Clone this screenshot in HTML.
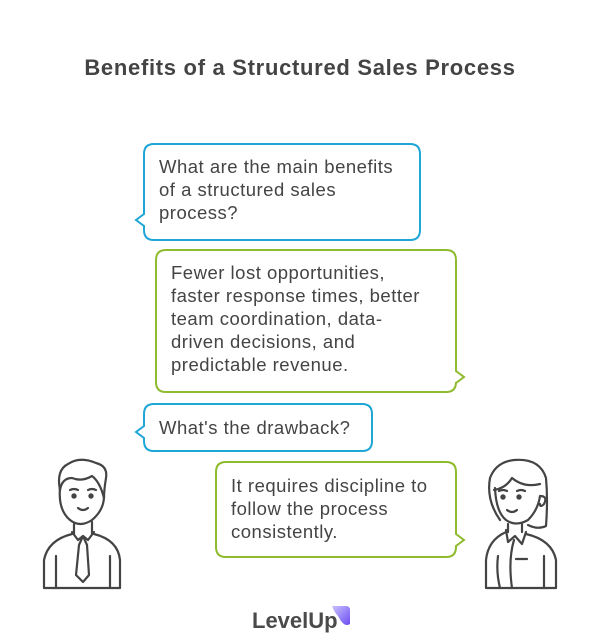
<!DOCTYPE html>
<html><head><meta charset="utf-8"><style>
html,body{margin:0;padding:0;background:#fff;}
svg{display:block;}
text{font-family:"Liberation Sans",sans-serif;}
</style></head><body>
<svg width="600" height="642" viewBox="0 0 600 642" xmlns="http://www.w3.org/2000/svg">
<defs><linearGradient id="g" x1="0" y1="0" x2="1" y2="1"><stop offset="0" stop-color="#c9c4ff"/><stop offset="1" stop-color="#6d4cf0"/></linearGradient></defs>
<text x="300" y="75" text-anchor="middle" font-size="22" font-weight="bold" fill="#444" letter-spacing="0.7">Benefits of a Structured Sales Process</text>
<g fill="#fff" stroke-width="2">
<path stroke="#1ea7d6" d="M154,144 H410 Q420,144 420,154 V230 Q420,240 410,240 H154 Q144,240 144,230 V226 L136,220 L144,214 V154 Q144,144 154,144Z"/>
<path stroke="#8fbb2e" d="M166,250 H446 Q456,250 456,260 V371 L464,377 L456,383 V382 Q456,392 446,392 H166 Q156,392 156,382 V260 Q156,250 166,250Z"/>
<path stroke="#1ea7d6" d="M154,404 H362 Q372,404 372,414 V441 Q372,451 362,451 H154 Q144,451 144,441 V438 L136,432 L144,426 V414 Q144,404 154,404Z"/>
<path stroke="#8fbb2e" d="M226,462 H446 Q456,462 456,472 V534 L464,540 L456,546 V547 Q456,557 446,557 H226 Q216,557 216,547 V472 Q216,462 226,462Z"/>
</g>
<g font-size="18.5" fill="#444" letter-spacing="0.5">
<text x="159" y="173">What are the main benefits</text>
<text x="159" y="196">of a structured sales</text>
<text x="159" y="219">process?</text>
<text x="171" y="279">Fewer lost opportunities,</text>
<text x="171" y="302">faster response times, better</text>
<text x="171" y="325">team coordination, data-</text>
<text x="171" y="348">driven decisions, and</text>
<text x="171" y="371">predictable revenue.</text>
<text x="159" y="434">What's the drawback?</text>
<text x="231" y="492">It requires discipline to</text>
<text x="231" y="515">follow the process</text>
<text x="231" y="538">consistently.</text>
</g>
<!-- man -->
<g fill="none" stroke="#444" stroke-width="2.2" stroke-linejoin="round" stroke-linecap="round">
<path d="M60,490 Q56,470 68,464 Q80,456 96,463 Q108,466 106,478 Q104,490 104,498"/>
<path d="M60,490 Q62,478 72,478 Q82,482 92,476 Q100,482 104,498"/>
<path d="M60,488 Q58,510 70,520 Q80,528 92,520 Q104,510 104,496"/>
<path d="M70,490 Q74,488 78,490 M88,490 Q92,488 96,490"/>
<circle cx="74" cy="496" r="1.6" fill="#444"/><circle cx="91" cy="496" r="1.6" fill="#444"/>
<path d="M78,508 Q83,512 88,508"/>
<path d="M74,524 V534 M92,522 V534"/>
<path d="M72,532 L78,540 L83,536 L88,540 L94,532"/>
<path d="M83,536 L79,545 L76,575 L83,582 L89,575 L87,545 Z"/>
<path d="M72,534 Q48,540 44,560 V588 H120 V560 Q118,540 94,534"/>
<path d="M56,556 V588 M110,556 V588"/>
</g>
<!-- woman -->
<g fill="none" stroke="#444" stroke-width="2.2" stroke-linejoin="round" stroke-linecap="round">
<path d="M500,520 Q486,500 490,478 Q496,462 514,460 Q540,458 546,478 Q548,500 546,526 Q538,530 528,525"/>
<path d="M494,490 Q506,488 512,478 Q524,488 540,484"/>
<path d="M495,488 Q496,512 506,520 Q516,527 528,520 Q538,510 540,496 Q548,496 544,504 Q540,508 540,504"/>
<path d="M499,491 Q503,489 507,491 M517,491 Q521,489 525,491"/>
<circle cx="503" cy="497" r="1.6" fill="#444"/><circle cx="519" cy="497" r="1.6" fill="#444"/>
<path d="M507,510 Q512,514 517,510"/>
<path d="M508,524 V532 M522,524 V532"/>
<path d="M506,530 L508,542 L515,536 L522,544 L526,532"/>
<path d="M506,532 Q488,540 486,560 V588 H556 V560 Q552,540 526,534"/>
<path d="M498,556 Q496,572 500,588 M544,556 V588 M514,540 Q508,560 512,588"/>
<path d="M516,559 H527"/>
</g>
<!-- logo -->
<path d="M332,606 H346 Q350,606 350,610 V624 Q344,628 338,616 Q334,612 332,606Z" fill="url(#g)"/>
<text x="252" y="628" font-size="22" font-weight="bold" fill="#4a4a4a">LevelUp</text>
</svg>
</body></html>
